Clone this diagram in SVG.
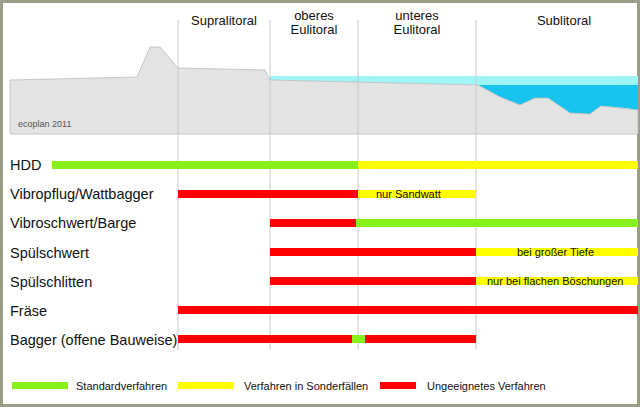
<svg xmlns="http://www.w3.org/2000/svg" width="640" height="407" viewBox="0 0 640 407">
<style>
text{font-family:"Liberation Sans",Arial,sans-serif;fill:#111}
.lab{font-size:14.5px}
.z{font-size:13px;text-anchor:middle}
.s{font-size:11px}
.vl{stroke:#c8c8c8;stroke-width:1}
</style>
<rect x="0" y="0" width="640" height="407" fill="#fff"/>
<rect x="1.5" y="1.5" width="637" height="404" fill="none" stroke="#9a9c85" stroke-width="3"/>
<g id="profile">
<polygon points="270,76 638,76 638,85 478,85 270,80" fill="#9ff4f8"/>
<polygon points="478,85 638,85 638,110 625,108 601,106 590,114 570,113 548,98 535,98 520,105 500,97" fill="#18c4ee"/>
<polygon points="10,80 137,77 150,47 160,47 178,68 265,70 270,80 478,85 500,97 520,105 535,98 548,98 570,113 590,114 601,106 638,110 638,134 10,134" fill="#e3e3e3" stroke="#bbb" stroke-width="0.8"/>
<text x="18" y="127" style="font-size:9px;fill:#555">ecoplan 2011</text>
</g>
<g id="lines">
<line class="vl" x1="178" y1="20" x2="178" y2="350"/>
<line class="vl" x1="270" y1="20" x2="270" y2="350"/>
<line class="vl" x1="358" y1="20" x2="358" y2="350"/>
<line class="vl" x1="476" y1="20" x2="476" y2="350"/>
</g>
<g id="zones">
<text class="z" x="224" y="25">Supralitoral</text>
<text class="z" x="314" y="20">oberes</text><text class="z" x="314" y="34">Eulitoral</text>
<text class="z" x="417" y="20">unteres</text><text class="z" x="417" y="34">Eulitoral</text>
<text class="z" x="564" y="25">Sublitoral</text>
</g>
<g id="rows">
<text class="lab" x="10" y="170">HDD</text>
<rect x="52" y="161" width="306" height="8" fill="#88f01c"/><rect x="358" y="161" width="280" height="8" fill="#ffff00"/>
<text class="lab" x="10" y="199">Vibropflug/Wattbagger</text>
<rect x="178" y="190" width="180" height="8" fill="#ff0000"/><rect x="358" y="190" width="118" height="8" fill="#ffff00"/>
<text class="s" x="376" y="198">nur Sandwatt</text>
<text class="lab" x="10" y="228">Vibroschwert/Barge</text>
<rect x="270" y="219" width="86" height="8" fill="#ff0000"/><rect x="356" y="219" width="282" height="8" fill="#88f01c"/>
<text class="lab" x="10" y="258">Spülschwert</text>
<rect x="270" y="248" width="206" height="8" fill="#ff0000"/><rect x="476" y="248" width="162" height="8" fill="#ffff00"/>
<text class="s" x="517" y="256">bei großer Tiefe</text>
<text class="lab" x="10" y="287">Spülschlitten</text>
<rect x="270" y="277" width="206" height="8" fill="#ff0000"/><rect x="476" y="277" width="162" height="8" fill="#ffff00"/>
<text class="s" x="487" y="285">nur bei flachen Böschungen</text>
<text class="lab" x="10" y="316">Fräse</text>
<rect x="178" y="306" width="460" height="8" fill="#ff0000"/>
<text class="lab" x="10" y="345">Bagger (offene Bauweise)</text>
<rect x="178" y="335" width="174" height="8" fill="#ff0000"/><rect x="352" y="335" width="13" height="8" fill="#88f01c"/><rect x="365" y="335" width="111" height="8" fill="#ff0000"/>
</g>
<g id="legend">
<rect x="12" y="382" width="56" height="7" fill="#88f01c"/><text class="s" x="76" y="390">Standardverfahren</text>
<rect x="178" y="382" width="56" height="7" fill="#ffff00"/><text class="s" x="244" y="390">Verfahren in Sonderfällen</text>
<rect x="380" y="382" width="36" height="7" fill="#ff0000"/><text class="s" x="427" y="390">Ungeeignetes Verfahren</text>
</g>
</svg>
